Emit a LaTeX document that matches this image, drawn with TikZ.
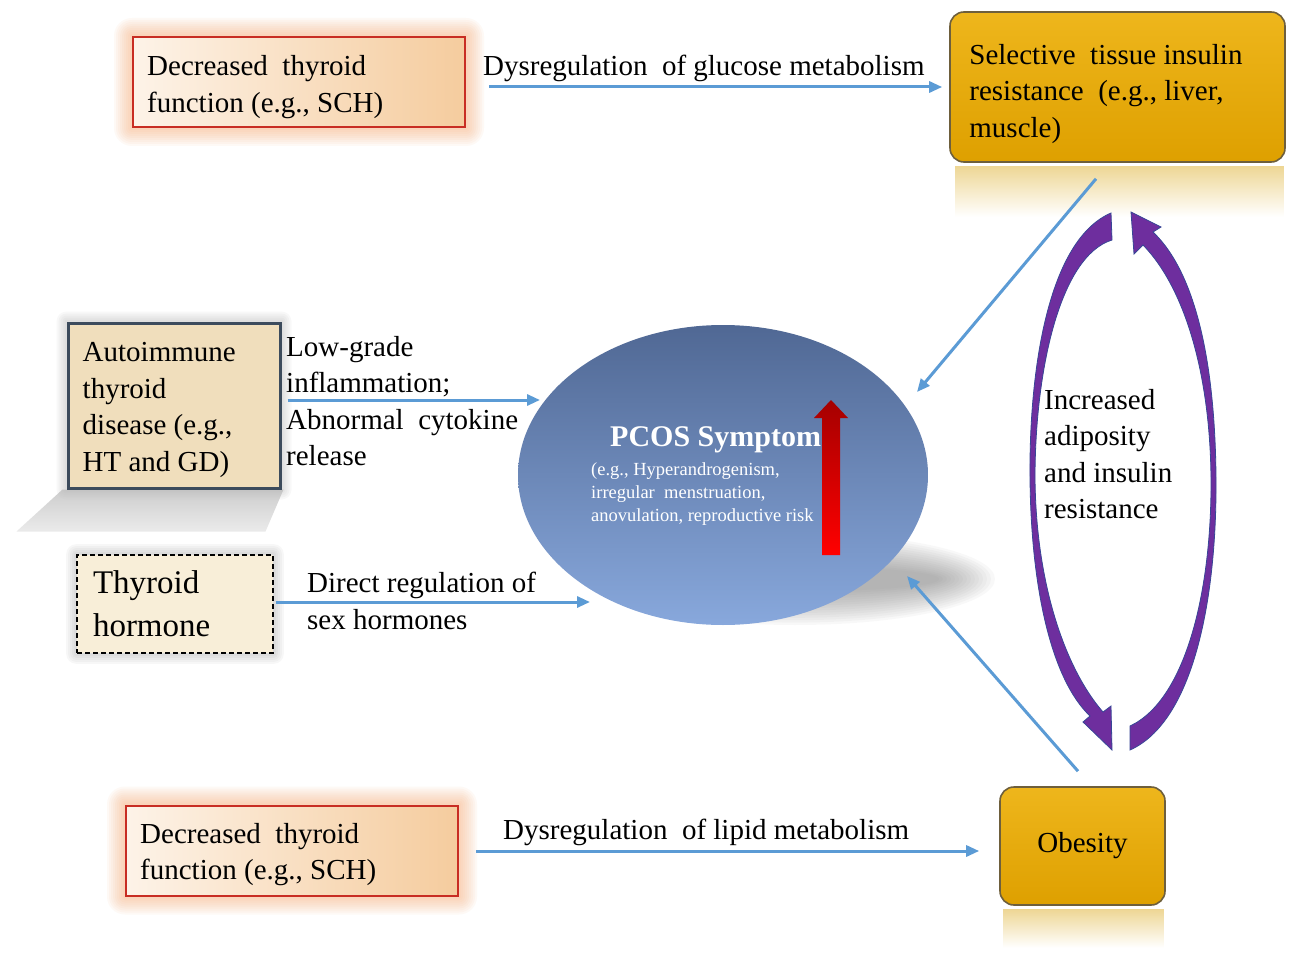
\documentclass[tikz,border=0pt]{standalone}
\usepackage{fontspec}
\setmainfont{Liberation Serif}
\usetikzlibrary{arrows.meta,calc,shapes.geometric}
\pgfdeclarelayer{bg}
\pgfsetlayers{bg,main}
\definecolor{connc}{RGB}{91,155,213}
\definecolor{peachL}{RGB}{253,243,232}
\definecolor{peachR}{RGB}{245,204,158}
\definecolor{peachD}{RGB}{200,45,35}
\definecolor{glowc}{RGB}{250,160,100}
\definecolor{goldT}{RGB}{238,182,28}
\definecolor{goldB}{RGB}{222,160,0}
\definecolor{goldD}{RGB}{110,95,60}
\definecolor{reflT}{RGB}{238,215,150}
\definecolor{parch}{RGB}{240,222,188}
\definecolor{parchD}{RGB}{60,75,92}
\definecolor{hormF}{RGB}{248,238,216}
\definecolor{ellT}{RGB}{80,104,148}
\definecolor{ellB}{RGB}{136,168,220}
\definecolor{purp}{RGB}{110,46,158}
\definecolor{purpD}{RGB}{55,70,150}
\definecolor{redT}{RGB}{165,0,0}
\definecolor{redB}{RGB}{255,0,0}
\newcommand\fmain{\fontsize{29}{36.5}\selectfont}
\newcommand\fbig{\fontsize{33}{43}\selectfont}
\newcommand\fsmall{\fontsize{18.5}{23}\selectfont}
\newcommand\fpcos{\fontsize{30}{36}\selectfont\bfseries}
\begin{document}
\begin{tikzpicture}[x=1pt,y=-1pt,
  every node/.style={inner sep=0pt},
  peachbox/.style={rectangle, draw=peachD, line width=2pt, left color=peachL, right color=peachR,
    minimum width=332pt, minimum height=90pt},
  goldbox/.style={rectangle, rounded corners=14pt, draw=goldD, line width=1.6pt, top color=goldT, bottom color=goldB, font=\fmain},
  autobox/.style={rectangle, draw=parchD, line width=3pt, fill=parch, minimum width=212pt, minimum height=165pt},
  hormbox/.style={rectangle, draw=black, line width=1.6pt, dash pattern=on 5pt off 3pt, fill=hormF,
    minimum width=196pt, minimum height=98pt, text width=164pt, align=left, font=\fbig},
  lbl/.style={anchor=west, align=left, font=\fmain},
  conn/.style={draw=connc, line width=3pt, -{Triangle[length=13pt,width=11pt]}},
  loopc/.style={fill=purp, draw=purpD, line width=0.8pt}
]
\useasboundingbox (0,0) rectangle (1299,960);

% boxes
\node[peachbox] (dt1) at (299,82) {};
\node[lbl] (dt1t) at ($(dt1.west)+(15,5)$) {Decreased\ \ thyroid\\function (e.g., SCH)};
\node[goldbox, minimum width=335pt, minimum height=150pt] (sel) at (1117.5,87) {};
\node[lbl] (selt) at ($(sel.west)+(20,7)$) {Selective\ \ tissue insulin\\resistance\ \ (e.g., liver,\\muscle)};
\node[autobox] (auto) at (174,405.5) {};
\node[lbl] (autot) at ($(auto.west)+(16,4.5)$) {Autoimmune\\thyroid\\disease (e.g.,\\HT and GD)};
\node[hormbox] (th) at (175,604) {Thyroid\\hormone};
\node[peachbox] (dt2) at (292,850.5) {};
\node[lbl] (dt2t) at ($(dt2.west)+(15,4)$) {Decreased\ \ thyroid\\function (e.g., SCH)};
\node[goldbox, minimum width=165pt, minimum height=118pt, align=center] (ob) at (1082.5,846) {Obesity};
\node[ellipse, minimum width=410pt, minimum height=300pt, top color=ellT, bottom color=ellB] (pcos) at (723,475) {};

% background effects
\begin{pgfonlayer}{bg}
  \fill[white] (0,0) rectangle (1299,960);
  \foreach \b in {dt1,dt2}{
    \foreach \d in {2,4,...,18}{
      \fill[glowc, opacity=0.06, rounded corners=\d pt] ($(\b.south west)+(-\d,\d)$) rectangle ($(\b.north east)+(\d,-\d)$);
    }
  }
  \foreach \d in {2,4,...,10}{
    \fill[gray, opacity=0.06, rounded corners=\d pt] ($(th.south west)+(-\d,\d)$) rectangle ($(th.north east)+(\d,-\d)$);
    \fill[gray, opacity=0.05, rounded corners=\d pt] ($(auto.south west)+(-\d,\d)$) rectangle ($(auto.north east)+(\d,-\d)$);
  }
  \shade[top color=gray!55, bottom color=gray!22, opacity=0.7]
    ($(auto.south west)+(-4,0)$) -- ($(auto.south east)+(2,0)$) -- ($(auto.south east)+(-16,42)$) -- ($(auto.south west)+(-50,42)$) -- cycle;
  \foreach \i in {0,...,14}{
    \fill[gray, opacity=0.05] ($(pcos.center)+(72,104)$) ellipse [x radius={(200-4*\i)*1pt}, y radius={(46-2.4*\i)*1pt}];
  }
  \shade[top color=reflT, bottom color=white] ($(sel.south west)+(6,4)$) rectangle ($(sel.south east)+(-2,54)$);
  \shade[top color=reflT, bottom color=white] ($(ob.south west)+(4,4)$) rectangle ($(ob.south east)+(-2,42)$);
\end{pgfonlayer}

% PCOS text
\node[anchor=west, font=\fpcos, text=white] (ptitle) at (610,440) {PCOS Symptom};
\node[anchor=west, align=left, font=\fsmall, text=white] (psub) at (591,494)
  {(e.g., Hyperandrogenism,\\irregular\ \ menstruation,\\anovulation, reproductive risk};
\shade[top color=redT, bottom color=redB]
  (822,555) -- (840,555) -- (840,418) -- (848,418) -- (831,400) -- (814,418) -- (822,418) -- cycle;

% labels
\node[lbl] (lglu) at (483,68) {Dysregulation\ \ of glucose metabolism};
\node[lbl] (linf) at (286,401) {Low-grade\\inflammation;\\Abnormal\ \ cytokine\\release};
\node[lbl] (lsex) at (307,601) {Direct regulation of\\sex hormones};
\node[lbl] (llip) at (503,832) {Dysregulation\ \ of lipid metabolism};
\node[lbl] (ladi) at (1044,454) {Increased\\adiposity\\and insulin\\resistance};

% connectors
\draw[conn] ($(dt1.east)+(23,5)$) -- ($(sel.west)+(-7,0)$);
\draw[conn] ($(auto.east)+(6,-5.5)$) -- ($(pcos.center)+(-183,-75)$);
\draw[conn] ($(th.east)+(2,-2)$) -- ($(pcos.center)+(-133,127)$);
\draw[conn] ($(dt2.east)+(17,0.5)$) -- ($(ob.west)+(-20,5)$);
\draw[conn] ($(sel.south)+(-21.5,16)$) -- ($(pcos.center)+(194,-83)$);
\draw[conn] ($(ob.north)+(-4.5,-15)$) -- ($(pcos.center)+(184,101)$);

% purple feedback loop
\path[loopc] (1111,213) .. controls (1048,240) and (1029,370) .. (1030,478)
  .. controls (1031,590) and (1052,680) .. (1090,716)
  -- (1083,722) -- (1112,750) -- (1111,706) -- (1103,712)
  .. controls (1068,672) and (1036,590) .. (1035,478)
  .. controls (1035,370) and (1060,256) .. (1112,240) -- cycle;
\path[loopc] (1130,750) .. controls (1193,722) and (1217,600) .. (1216,478)
  .. controls (1215,360) and (1195,272) .. (1153,232)
  -- (1161,227) -- (1131,212) -- (1134,254) -- (1143,245)
  .. controls (1184,287) and (1210,372) .. (1211,478)
  .. controls (1212,590) and (1186,700) .. (1130,726) -- cycle;
\end{tikzpicture}
\end{document}
